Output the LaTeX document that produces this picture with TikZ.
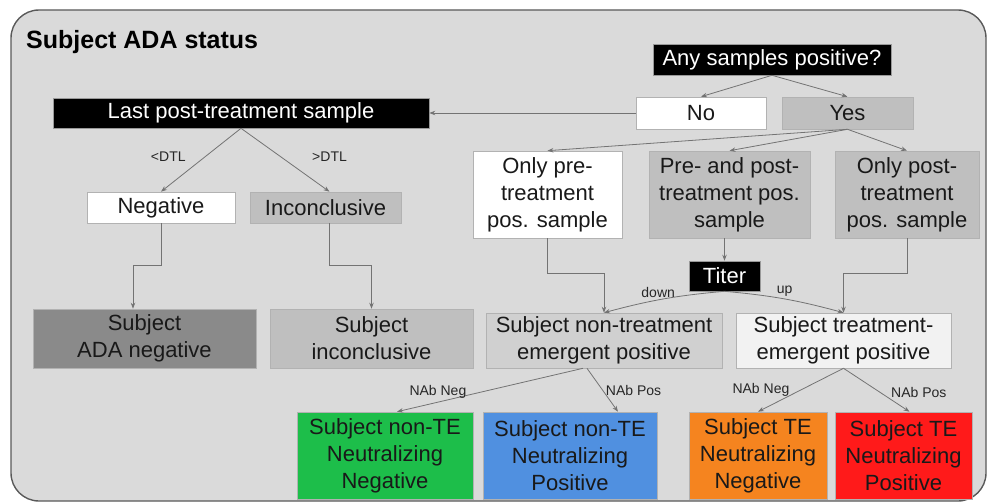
\documentclass[tikz,border=0pt]{standalone}
\usepackage{fontspec}
\setmainfont{Liberation Sans}
\usepackage{xcolor}
\usetikzlibrary{arrows.meta}

\definecolor{panel}{HTML}{DADADA}
\definecolor{midgray}{HTML}{BFBFBF}
\definecolor{darkgray}{HTML}{8A8A8A}
\definecolor{nontegray}{HTML}{D0D0D0}
\definecolor{tegray}{HTML}{F2F2F2}
\definecolor{nabgreen}{HTML}{1DBE4A}
\definecolor{nabblue}{HTML}{5090E0}
\definecolor{naborange}{HTML}{F5841F}
\definecolor{nabred}{HTML}{FF1A1A}

\begin{document}
\begin{tikzpicture}[x=1pt, y=-1pt,
  box/.style={draw=black!30, line width=0.6pt, minimum height=31, align=center,
              inner sep=2pt, font=\fontsize{22}{27}\selectfont, text=black!90},
  dark/.style={box, fill=black, text=white, draw=black!40},
  arr/.style={-{Stealth[length=6pt,width=4.5pt]}, line width=0.8pt, black!55},
  lbl/.style={font=\fontsize{14}{14}\selectfont, text=black!85, inner sep=1pt}
]
  \useasboundingbox (0,0) rectangle (989,503);
  \draw[black!65, line width=1.4pt, fill=panel, rounded corners=28] (11,10) rectangle (986,501);

  \node[anchor=west, inner sep=0, font=\fontsize{25}{25}\selectfont\bfseries] (title) at (26,42) {Subject ADA status};

  % top question
  \node[dark, minimum width=238] (ask) at (772,59.5) {Any samples positive?};
  \node[box, fill=white, minimum width=130, minimum height=32] (no) at (701,113) {No};
  \node[box, fill=midgray, minimum width=131, minimum height=32] (yes) at (847.5,113) {Yes};

  % negative branch
  \node[dark, minimum width=376, minimum height=30] (last) at (241,113) {Last post-treatment sample};
  \node[box, fill=white, minimum width=148] (neg) at (161,207.5) {Negative};
  \node[box, fill=midgray, minimum width=151] (inc) at (325.5,207.5) {Inconclusive};
  \node[box, fill=darkgray, minimum width=223, minimum height=59] (adaneg) at (144.5,338.5) {Subject\\ADA negative};
  \node[box, fill=midgray, minimum width=203, minimum height=59] (subinc) at (371.5,338.5) {Subject\\inconclusive};

  % positive branch
  \node[box, fill=white, minimum width=149, minimum height=87] (pre) at (547.5,194.5) {Only pre-\\treatment\\pos. sample};
  \node[box, fill=midgray, minimum width=161, minimum height=87] (both) at (729.5,194.5) {Pre- and post-\\treatment pos.\\sample};
  \node[box, fill=midgray, minimum width=144, minimum height=87] (post) at (907,194.5) {Only post-\\treatment\\pos. sample};
  \node[dark, minimum width=71, minimum height=30] (titer) at (724.5,276) {Titer};
  \node[box, fill=nontegray, minimum width=236, minimum height=55] (nonte) at (604,340.5) {Subject non-treatment\\emergent positive};
  \node[box, fill=tegray, minimum width=215, minimum height=55] (te) at (843.5,340.5) {Subject treatment-\\emergent positive};

  % neutralizing results
  \node[box, fill=nabgreen, minimum width=176, minimum height=87] (nteneg) at (385,455.5) {Subject non-TE\\Neutralizing\\Negative};
  \node[box, fill=nabblue, minimum width=174, minimum height=87] (ntepos) at (570,455.5) {Subject non-TE\\Neutralizing\\Positive};
  \node[box, fill=naborange, minimum width=138, minimum height=87] (teneg) at (758,455.5) {Subject TE\\Neutralizing\\Negative};
  \node[box, fill=nabred, minimum width=137, minimum height=87] (tepos) at (903.5,455.5) {Subject TE\\Neutralizing\\Positive};

  % connectors
  \draw[arr] (ask.south) -- (no.north);
  \draw[arr] (ask.south) -- (yes.north);
  \draw[arr] (no.west) -- (last.east);
  \draw[arr] (last.south) -- node[lbl, left, pos=0.45, xshift=-18] {<DTL} (neg.north);
  \draw[arr] (last.south) -- node[lbl, right, pos=0.45, xshift=30] {>DTL} ([xshift=4]inc.north);
  \draw[arr] (neg.south) -- ++(0,42) -| ([xshift=-11.5]adaneg.north);
  \draw[arr] ([xshift=4]inc.south) -- ++(0,42) -| (subinc.north);

  \draw[arr] (yes.south) -- (pre.north);
  \draw[arr] (yes.south) -- (both.north);
  \draw[arr] (yes.south) -- (post.north);
  \draw[arr] (titer.north |- both.south) -- (titer.north);
  \draw[arr] (pre.south) -- ++(0,35) -| (nonte.north);
  \draw[arr] (post.south) -- ++(0,35) -| (te.north);
  \draw[arr] (titer.south) to[bend right=5] node[lbl, above, pos=0.55, yshift=1] {down} (nonte.north);
  \draw[arr] (titer.south) to[bend left=5] node[lbl, above, pos=0.5, yshift=1] {up} (te.north);

  \draw[arr] ([xshift=-21]nonte.south) -- node[lbl, above, pos=0.78, yshift=2] {NAb Neg} ([xshift=12]nteneg.north);
  \draw[arr] ([xshift=-17]nonte.south) -- node[lbl, right, pos=0.5, xshift=2] {NAb Pos} ([xshift=48]ntepos.north);
  \draw[arr] (te.south) -- node[lbl, left, pos=0.5, xshift=-10] {NAb Neg} (teneg.north);
  \draw[arr] (te.south) -- node[lbl, right, pos=0.55, xshift=10] {NAb Pos} ([xshift=6]tepos.north);
\end{tikzpicture}
\end{document}
